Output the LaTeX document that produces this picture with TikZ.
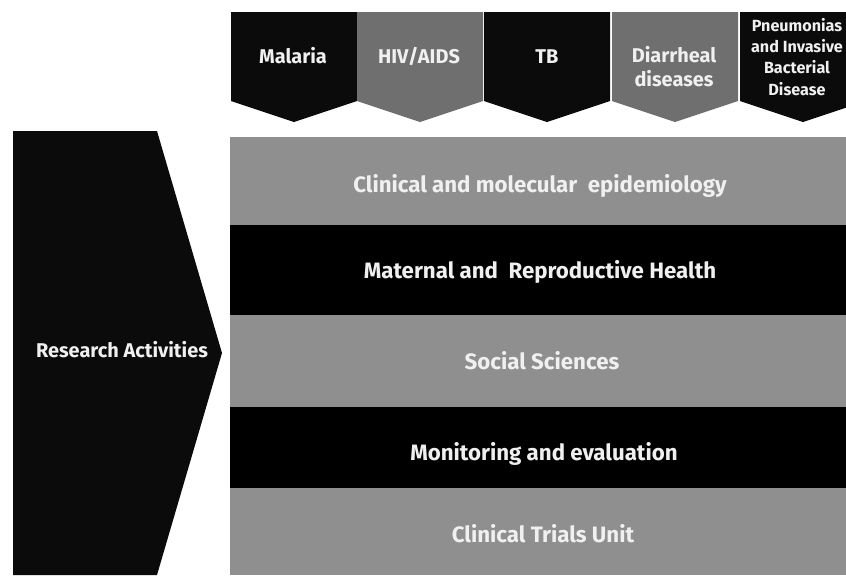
\documentclass[tikz,border=0pt]{standalone}
\usepackage{fontspec}
\setmainfont{Fira Sans}
\usetikzlibrary{positioning}

\definecolor{barblack}{HTML}{0B0B0B}
\definecolor{bargray}{HTML}{6F6F6F}
\definecolor{bandgray}{HTML}{8F8F8F}

\tikzset{
  lbl/.style={text=white!94!black, font=\bfseries\fontsize{17}{20}\selectfont, align=center, inner sep=0pt},
  duolbl/.style={lbl, font=\bfseries\fontsize{17}{20.4}\selectfont},
  smalllbl/.style={lbl, font=\bfseries\fontsize{13.8}{18}\selectfont},
  bandlbl/.style={lbl, font=\bfseries\fontsize{19}{22}\selectfont, anchor=base},
}

\begin{document}
\begin{tikzpicture}[x=0.03cm, y=-0.03cm]
\useasboundingbox (0,0) rectangle (846,575);
\clip (0,0) rectangle (846,575);

% disease chevrons along the top
\foreach \x/\c in {231/barblack, 357/bargray, 484/barblack, 612/bargray, 740/barblack}
  \fill[\c] (\x,12) -- (\x+126,12) -- (\x+126,101) -- (\x+63,122) -- (\x,101) -- cycle;

\node[lbl, anchor=base] (malaria) at (293,63) {Malaria};
\node[lbl, anchor=base] (hiv) at (419,63) {HIV/AIDS};
\node[lbl, anchor=base] (tb) at (547,63) {TB};
\node[duolbl] (diarrheal) at (674,67) {Diarrheal\\diseases};
\node[smalllbl] (pneumo) at (797,57) {Pneumonias\\and Invasive\\Bacterial\\Disease};

% big arrow on the left
\fill[barblack] (13,131) -- (157,131) -- (222,353) -- (157,575) -- (13,575) -- cycle;
\node[lbl, anchor=base] (research) at (122,357) {Research Activities};

% horizontal bands
\fill[bandgray] (230,137) rectangle (846,225);
\fill[black] (230,225) rectangle (846,315);
\fill[bandgray] (230,315) rectangle (846,407);
\fill[black] (230,407) rectangle (846,488);
\fill[bandgray] (230,488) rectangle (846,575);

\node[bandlbl] (epi) at (540,192) {Clinical and molecular~ epidemiology};
\node[bandlbl] (maternal) at (540,278) {Maternal and~ Reproductive Health};
\node[bandlbl] (social) at (542,369) {Social Sciences};
\node[bandlbl] (monitor) at (544,460) {Monitoring and evaluation};
\node[bandlbl] (trials) at (543,542) {Clinical Trials Unit};
\end{tikzpicture}
\end{document}
